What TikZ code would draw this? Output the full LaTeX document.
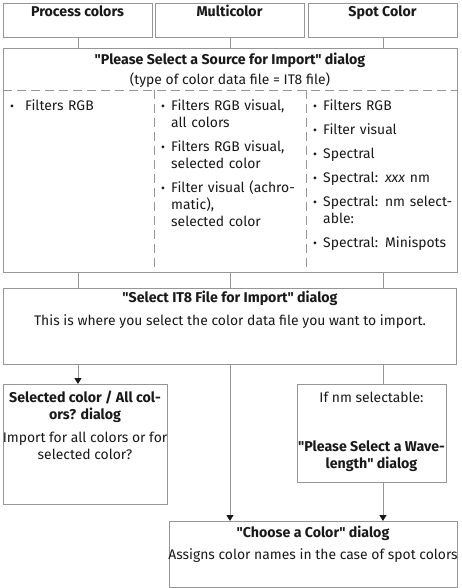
\documentclass[tikz,border=0pt]{standalone}
\usepackage{fontspec}
\newfontfamily\fira{Fira Sans}
\usetikzlibrary{arrows.meta}

\definecolor{frame}{RGB}{150,150,150}
\definecolor{ink}{RGB}{25,25,25}

% one bullet item of a list column
\newcommand{\lstitem}[2][10pt]{\noindent\makebox[#1][l]{\raisebox{0.3pt}{\fontsize{12}{12}\selectfont\textbullet}}%
  \parbox[t]{\dimexpr\hsize-#1\relax}{\strut#2\strut}\par\prevdepth=\dp\strutbox\vspace{7pt}}

\begin{document}
\begin{tikzpicture}[x=1pt, y=-1pt, text=ink, font=\fira\fontsize{13.9}{17}\selectfont,
    box/.style={draw=frame, line width=0.9pt, anchor=north west, inner sep=0pt},
    ttl/.style={font=\fira\fontsize{14.2}{17}\selectfont\bfseries, anchor=base, align=center, inner sep=0pt},
    txt/.style={anchor=base, align=center, inner sep=0pt},
    lst/.style={anchor=north west, text width=#1, align=left, inner sep=0pt},
    link/.style={draw=frame, line width=0.9pt},
    arr/.style={link, -{Triangle[ink, length=6pt, width=7pt]}},
    sep/.style={draw=frame, line width=0.9pt, dash pattern=on 9pt off 5pt}]
\useasboundingbox (0,0) rectangle (461,588);

%color types
\foreach \x/\n/\t in {3/pc/Process colors, 155/mc/Multicolor, 308/sc/Spot Color}{
  \node[box, minimum width=149pt, minimum height=34pt] (\n) at (\x, 3) {};
  \node[ttl] (\n-t) at (\x+74.5, 16.5) {\t};
}

%source dialog
\node[box, minimum width=454pt, minimum height=224pt] (src) at (3, 48) {};
\node[ttl] (src-t) at (230, 64.5) {"Please Select a Source for Import" dialog};
\node[txt] (src-s) at (230, 84.5) {(type of color data file = IT8 file)};
\coordinate (d0) at (src.west |- 0,90);
\coordinate (d1) at (154, 90);
\coordinate (d2) at (306, 90);
\draw[sep] (d0) -- (d0 -| src.east);
\draw[sep] (d1) -- (d1 |- src.south);
\draw[sep] (d2) -- (d2 |- src.south);

%lists, top = first baseline - strut
\node[lst=138pt] (l1) at (10, 98.6) {\lstitem[15pt]{Filters RGB}};
\node[lst=142pt] (l2) at (161, 98.6) {%
  \lstitem{Filters RGB visual,\\all colors}%
  \lstitem{Filters RGB visual,\\selected color}%
  \lstitem{Filter visual (achro-\\matic),\\selected color}};
\node[lst=142pt] (l3) at (313, 98.6) {%
  \lstitem{Filters RGB}%
  \lstitem{Filter visual}%
  \lstitem{Spectral}%
  \lstitem{Spectral: \textit{xxx} nm}%
  \lstitem{Spectral: nm select-\\able:}%
  \lstitem{Spectral: Minispots}};

%file dialog
\node[box, minimum width=453pt, minimum height=76pt] (it8) at (3, 288) {};
\node[ttl] (it8-t) at (230, 302.5) {"Select IT8 File for Import" dialog};
\node[txt] (it8-s) at (230, 325) {This is where you select the color data file you want to import.};

%follow-up dialogs (base = last line)
\node[box, minimum width=164pt, minimum height=120pt] (sel) at (3, 384) {};
\node[ttl] (sel-t) at (85, 419.5) {Selected color / All col-\\ors? dialog};
\node[txt] (sel-s) at (85, 459.5) {Import for all colors or for\\selected color?};

\node[box, minimum width=149pt, minimum height=98pt] (wl) at (297, 384) {};
\node[txt] (wl-s) at (371.5, 402.5) {If nm selectable:};
\node[ttl] (wl-t) at (371.5, 468.5) {"Please Select a Wave-\\length" dialog};

\node[box, minimum width=288pt, minimum height=66pt] (ch) at (169, 521) {};
\node[ttl] (ch-t) at (313, 537.5) {"Choose a Color" dialog};
\node[txt] (ch-s) at (313, 559.5) {Assigns color names in the case of spot colors};

%connectors
\foreach \n in {pc, mc, sc}{
  \draw[link] (\n.south) -- (\n.south |- src.north);
  \draw[link] (\n.south |- src.south) -- (\n.south |- it8.north);
}
\draw[arr] (pc.south |- it8.south) -- (pc.south |- sel.north);
\draw[arr] (mc.south |- it8.south) -- (mc.south |- ch.north);
\draw[link] (sc.south |- it8.south) -- (sc.south |- wl.north);
\draw[arr] (sc.south |- wl.south) -- (sc.south |- ch.north);
\end{tikzpicture}
\end{document}
